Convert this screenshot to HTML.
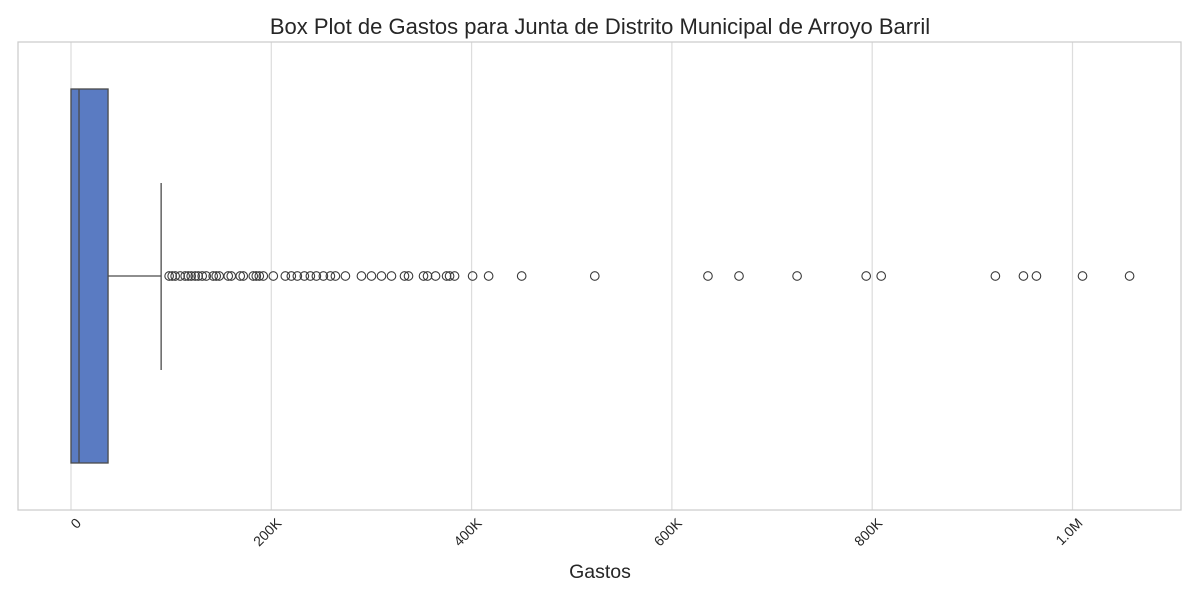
<!DOCTYPE html>
<html><head><meta charset="utf-8"><style>
body{margin:0;background:#fff;font-family:"Liberation Sans",sans-serif}
svg text{font-family:"Liberation Sans",sans-serif}
</style></head><body>
<svg id="chart" width="1200" height="600">
<rect x="0" y="0" width="1200" height="600" fill="#fff"/>
<text x="600" y="34" text-anchor="middle" font-size="22" fill="#262626">Box Plot de Gastos para Junta de Distrito Municipal de Arroyo Barril</text>
<g id="grid"></g>
<g id="ticks"></g>
<g id="marks"></g>
<rect x="18" y="42" width="1163" height="468" fill="none" stroke="#cccccc" stroke-width="1.25"/>
<text x="600" y="578" text-anchor="middle" font-size="19.5" fill="#262626">Gastos</text>
</svg>
<script>
// values in thousands
const tickValues = [0, 200, 400, 600, 800, 1000];
const tickLabels = ["0", "200K", "400K", "600K", "800K", "1.0M"];
const boxStats = [0, 8, 37, 90]; // q1, median, q3, upper whisker
const lowerWhisker = [0];
const outliers = [98,101,104,109,114,117,120,124,127,131,135,142,145,148,157,160,169,172,182,185,188,192,202,214,220,226,233,239,245,252,259,264,274,290,300,310,320,333,337,352,356,364,375,378,383,401,417,450,523,636,667,725,794,809,923,951,964,1010,1057];
const svg = document.getElementById('chart');
const NS = 'http://www.w3.org/2000/svg';
const x = v => 71 + v * 1.0015;
const yMid = 276;
function mk(tag, attrs, parent){const e=document.createElementNS(NS,tag);for(const k in attrs)e.setAttribute(k,attrs[k]);parent.appendChild(e);return e;}
const grid=document.getElementById('grid'), ticks=document.getElementById('ticks'), marks=document.getElementById('marks');
tickValues.forEach((v,i)=>{
  const l=mk('line',{x1:x(v),x2:x(v),y1:42,y2:510,stroke:'#dddddd','stroke-width':1.25},grid);
  
  
  const tx=x(v)+11, ty=524;
  const t=mk('text',{x:tx,y:ty,'font-size':14,fill:'#262626','text-anchor':'end',transform:`rotate(-45 ${tx} ${ty})`},ticks);
  t.textContent=tickLabels[i];
  
  
});
const [q1,med,q3,wh]=boxStats;
const w1=mk('line',{x1:x(q3),x2:x(wh),y1:yMid,y2:yMid,stroke:'#4a4a4a','stroke-width':1.3},marks);


const c1=mk('line',{x1:x(wh),x2:x(wh),y1:183,y2:370,stroke:'#4a4a4a','stroke-width':1.3},marks);


const box=mk('rect',{x:x(q1),y:89,width:x(q3)-x(q1),height:374,fill:'#5a7bc2',stroke:'#4a4a4a','stroke-width':1.3},marks);


const m=mk('line',{x1:x(med),x2:x(med),y1:89,y2:463,stroke:'#4a4a4a','stroke-width':1.3},marks);


outliers.forEach(v=>{
  const c=mk('circle',{cx:x(v),cy:yMid,r:4.3,fill:'none',stroke:'#3a3a3a','stroke-width':1.1},marks);
  
  
});
</script>
</body></html>
